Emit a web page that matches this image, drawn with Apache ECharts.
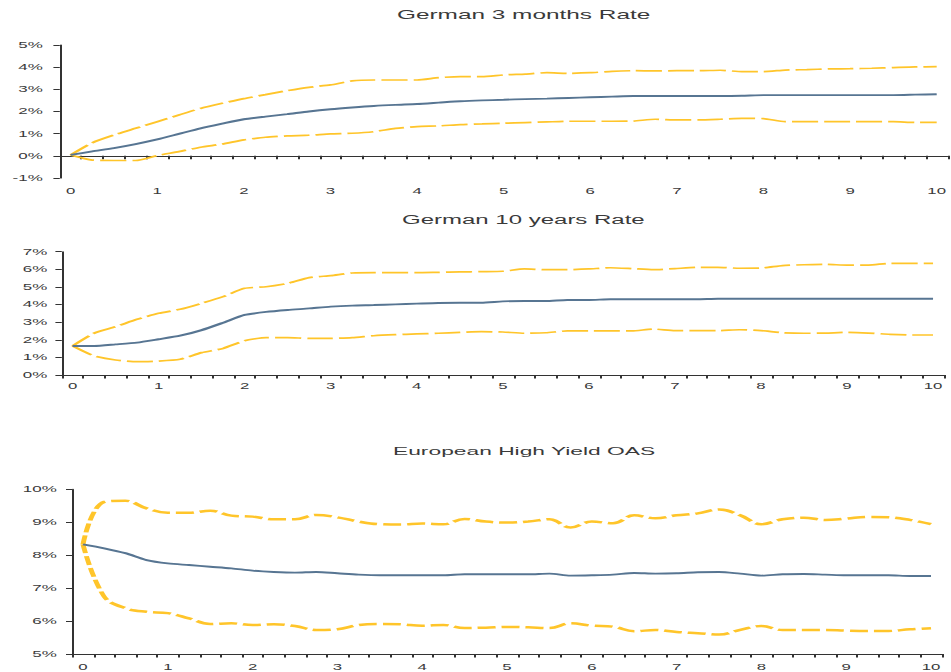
<!DOCTYPE html>
<html><head><meta charset="utf-8">
<script src="https://cdn.jsdelivr.net/npm/echarts@6/dist/echarts.min.js"></script>
<style>
html,body{margin:0;padding:0;background:#fff;overflow:hidden}
#wrap{width:951px;height:672px;overflow:hidden;position:relative;background:#fff}
#c{width:475.5px;height:672px;transform:scaleX(2);transform-origin:0 0}
</style></head>
<body><div id="wrap"><div id="c"></div></div>
<script>
// horizon (years), one category per quarter
const horizon = ['0','0.25','0.5','0.75','1','1.25','1.5','1.75','2','2.25','2.5','2.75','3','3.25','3.5','3.75','4','4.25','4.5','4.75','5','5.25','5.5','5.75','6','6.25','6.5','6.75','7','7.25','7.5','7.75','8','8.25','8.5','8.75','9','9.25','9.5','9.75','10'];
const xTickLabels = ['0','1','2','3','4','5','6','7','8','9','10'];

const titles = ['German 3 months Rate', 'German 10 years Rate', 'European High Yield OAS'];

// German 3 months Rate (%)
const m3Mean  = [0.04,0.2,0.35,0.53,0.74,0.99,1.24,1.45,1.65,1.77,1.88,2.0,2.1,2.18,2.25,2.3,2.34,2.4,2.46,2.5,2.53,2.56,2.58,2.61,2.64,2.67,2.7,2.7,2.7,2.7,2.7,2.71,2.74,2.74,2.74,2.74,2.74,2.74,2.74,2.76,2.78];
const m3Upper = [0.04,0.59,0.94,1.24,1.54,1.84,2.14,2.37,2.58,2.76,2.94,3.09,3.2,3.38,3.42,3.42,3.42,3.53,3.57,3.57,3.65,3.69,3.75,3.72,3.75,3.81,3.84,3.83,3.84,3.84,3.86,3.8,3.8,3.87,3.89,3.92,3.93,3.95,3.98,4.01,4.02];
const m3Lower = [0.04,-0.19,-0.21,-0.21,0.01,0.19,0.39,0.53,0.72,0.84,0.9,0.93,0.99,1.02,1.09,1.24,1.32,1.35,1.41,1.44,1.47,1.5,1.53,1.56,1.56,1.56,1.57,1.65,1.62,1.62,1.65,1.69,1.68,1.54,1.54,1.54,1.54,1.54,1.54,1.51,1.51];

// German 10 years Rate (%)
const y10Mean  = [1.65,1.65,1.74,1.84,2.03,2.23,2.55,2.97,3.41,3.58,3.69,3.78,3.88,3.94,3.97,4.01,4.05,4.09,4.1,4.1,4.18,4.2,4.2,4.26,4.26,4.3,4.3,4.3,4.3,4.3,4.33,4.33,4.33,4.33,4.33,4.33,4.33,4.33,4.33,4.33,4.33];
const y10Upper = [1.65,2.37,2.74,3.16,3.5,3.73,4.07,4.45,4.92,5.01,5.2,5.53,5.64,5.79,5.81,5.81,5.81,5.83,5.85,5.87,5.89,6.02,5.98,5.98,6.02,6.09,6.04,5.98,6.04,6.11,6.11,6.06,6.07,6.21,6.26,6.28,6.24,6.24,6.34,6.34,6.34];
const y10Lower = [1.65,1.08,0.85,0.76,0.79,0.89,1.27,1.51,1.95,2.12,2.12,2.08,2.08,2.12,2.23,2.29,2.33,2.37,2.42,2.46,2.44,2.37,2.4,2.5,2.5,2.5,2.5,2.61,2.52,2.52,2.52,2.57,2.52,2.4,2.37,2.38,2.42,2.38,2.31,2.27,2.27];

// European High Yield OAS (%)
const hyMean  = [8.33,8.21,8.06,7.85,7.75,7.7,7.65,7.6,7.53,7.49,7.47,7.49,7.45,7.41,7.39,7.39,7.39,7.39,7.42,7.42,7.42,7.42,7.44,7.38,7.39,7.41,7.46,7.44,7.45,7.48,7.49,7.44,7.38,7.42,7.43,7.41,7.39,7.39,7.39,7.37,7.37];
const hyUpper = [8.33,9.62,9.65,9.42,9.29,9.29,9.35,9.2,9.17,9.09,9.09,9.22,9.15,9.02,8.94,8.93,8.96,8.94,9.1,9.02,8.99,9.02,9.09,8.84,9.02,8.97,9.21,9.12,9.21,9.27,9.39,9.21,8.94,9.09,9.14,9.07,9.11,9.16,9.15,9.07,8.94];
const hyLower = [8.33,6.74,6.39,6.28,6.24,6.08,5.91,5.93,5.88,5.9,5.85,5.73,5.75,5.88,5.91,5.9,5.86,5.88,5.79,5.8,5.82,5.81,5.79,5.93,5.86,5.83,5.69,5.73,5.67,5.63,5.59,5.73,5.85,5.73,5.73,5.73,5.71,5.7,5.7,5.75,5.78];

const yMins = [-1, 0, 5];
const yMaxs = [5, 7, 10];

const BLUE = '#577592';
const GOLD = '#FFC52A';
const AXIS = '#333333';
const TEXT = '#3a3a3a';
const FONT = 'Liberation Sans, Arial, sans-serif';

// layout in unscaled (half-width) coordinates; page is stretched 2x horizontally
const grids = [
  {left: 29.9, right: 1.6, top: 45, height: 133},
  {left: 30.9, right: 4.1, top: 251.7, height: 123.3},
  {left: 36.2, right: 5.2, top: 489.3, height: 164.7}
];
const titlePos = [
  {left: 198.5, top: 7.5, size: 12.2},
  {left: 201, top: 213, size: 12.0},
  {left: 196.5, top: 444.5, size: 11.4}
];
const xMargins = [9.5, 7, 9];
const yMargins = [8.5, 7.2, 7.8];

const chart = echarts.init(document.getElementById('c'), null, {renderer: 'svg'});

const xAxes = grids.map((g, i) => ({
  type: 'category', gridIndex: i, data: horizon, boundaryGap: true,
  axisLine: {lineStyle: {color: AXIS, width: 1}},
  axisTick: {show: true, interval: 0, length: 3.5, lineStyle: {color: AXIS, width: 1}},
  axisLabel: {interval: 3, margin: xMargins[i], color: TEXT, fontFamily: FONT, fontSize: 8.4,
    formatter: (v, idx) => xTickLabels[Math.round(idx / 4)]},
  splitLine: {show: false}
}));
const yAxes = grids.map((g, i) => ({
  type: 'value', gridIndex: i, min: yMins[i], max: yMaxs[i], interval: 1,
  axisLine: {show: true, lineStyle: {color: AXIS, width: 1}},
  axisTick: {show: true, length: 3.2, lineStyle: {color: AXIS, width: 1}},
  axisLabel: {margin: yMargins[i], color: TEXT, fontFamily: FONT, fontSize: 8.5, formatter: '{value}%'},
  splitLine: {show: false}
}));

function band(data, i, dash, w, smooth) {
  return {type: 'line', xAxisIndex: i, yAxisIndex: i, data: data, symbol: 'none', smooth: smooth,
    lineStyle: {color: GOLD, width: w, type: dash}, silent: true, z: 2};
}
function mean(data, i, smooth) {
  return {type: 'line', xAxisIndex: i, yAxisIndex: i, data: data, symbol: 'none', smooth: smooth,
    lineStyle: {color: BLUE, width: 1.9}, silent: true, z: 3};
}

const series = [
  band(m3Upper, 0, [13, 3], 1.7, 0.2), band(m3Lower, 0, [13, 3], 1.7, 0.2), mean(m3Mean, 0, 0.2),
  band(y10Upper, 1, [13, 3], 1.7, 0.2), band(y10Lower, 1, [13, 3], 1.7, 0.2), mean(y10Mean, 1, 0.2),
  band(hyUpper, 2, [9, 3], 2.5, 0.4), band(hyLower, 2, [9, 3], 2.5, 0.4), mean(hyMean, 2, 0.3)
];

chart.setOption({
  animation: false,
  backgroundColor: '#fff',
  title: titles.map((t, i) => ({
    text: t, left: titlePos[i].left, top: titlePos[i].top, padding: 0,
    textStyle: {fontFamily: FONT, fontSize: titlePos[i].size, fontWeight: 'normal', color: TEXT, lineHeight: 14}
  })),
  grid: grids.map(g => Object.assign({containLabel: false}, g)),
  xAxis: xAxes,
  yAxis: yAxes,
  series: series
});
</script>
</body></html>
